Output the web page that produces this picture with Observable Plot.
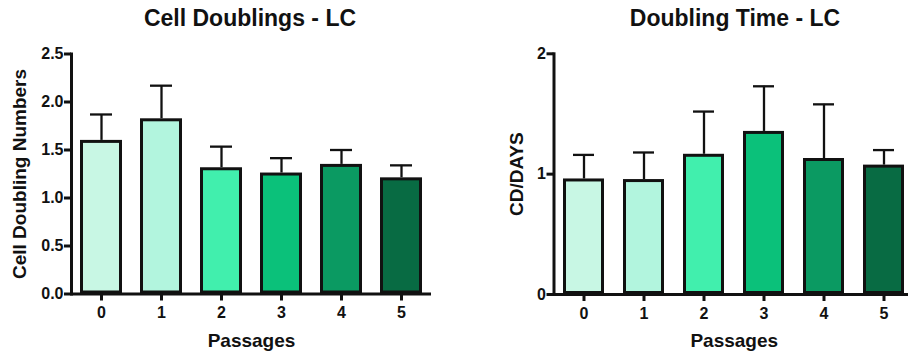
<!DOCTYPE html>
<html>
<head>
<meta charset="utf-8">
<script src="https://cdn.jsdelivr.net/npm/d3@7"></script>
<script src="https://cdn.jsdelivr.net/npm/@observablehq/plot@0.6"></script>
<style>
  html, body { margin: 0; padding: 0; background: #fff; overflow: hidden; }
  body { width: 908px; height: 356px; position: relative; font-family: "Liberation Sans", Arial, sans-serif; }
  .panel { position: absolute; top: 0; }
  .title { height: 40px; line-height: 37px; text-align: center; font-weight: bold; font-size: 23px; color: #111; white-space: nowrap; }
</style>
</head>
<body>
<div id="left" class="panel" style="left:0; width:454px;"></div>
<div id="right" class="panel" style="left:454px; width:460px;"></div>
<script>
const passages = ["0", "1", "2", "3", "4", "5"];
const colors = ["#c8f7e4", "#b2f5de", "#41efad", "#0bc17a", "#0b9a62", "#086b43"];

const cdTitle = "Cell Doublings - LC";
const cdLabel = "Cell Doubling Numbers";
const cdMean = [1.60, 1.825, 1.315, 1.26, 1.35, 1.21];
const cdUpper = [1.87, 2.17, 1.535, 1.415, 1.50, 1.34];
const cdTicks = [0, 0.5, 1.0, 1.5, 2.0, 2.5];

const dtTitle = "Doubling Time - LC";
const dtLabel = "CD/DAYS";
const dtMean = [0.96, 0.955, 1.165, 1.355, 1.13, 1.075];
const dtUpper = [1.16, 1.18, 1.52, 1.73, 1.58, 1.20];
const dtTicks = [0, 1, 2];

const xLabel = "Passages";

function chart(el, opts) {
  const data = passages.map((p, i) => ({p, mean: opts.mean[i], upper: opts.upper[i], color: colors[i]}));
  const title = document.createElement("div");
  title.className = "title";
  title.style.paddingLeft = opts.titleShift + "px";
  title.textContent = opts.title;
  el.appendChild(title);
  const plot = Plot.plot({
    width: opts.width,
    height: 316,
    marginLeft: opts.marginLeft,
    marginRight: opts.marginRight,
    marginTop: opts.marginTop,
    marginBottom: opts.marginBottom,
    style: {fontFamily: "'Liberation Sans', Arial, sans-serif", background: "#fff", color: "#111", overflow: "visible"},
    x: {domain: passages, paddingInner: opts.padIn, paddingOuter: opts.padIn / 2, axis: null},
    y: {domain: opts.domain, axis: null},
    marks: [
      Plot.ruleX(data, {x: "p", y1: "mean", y2: "upper", stroke: "#111", strokeWidth: 2.3}),
      Plot.tickY(data, {x: "p", y: "upper", stroke: "#111", strokeWidth: 2.3, insetLeft: opts.capInset, insetRight: opts.capInset}),
      Plot.barY(data, {x: "p", y: "mean", fill: "color", stroke: "#111", strokeWidth: 3, inset: 1.5}),
      Plot.ruleY([0], {stroke: "#111", strokeWidth: 3}),
      Plot.frame({anchor: "left", stroke: "#111", strokeWidth: 3}),
      Plot.axisY({ticks: opts.ticks, tickFormat: opts.fmt, tickSize: 7, tickPadding: 1, strokeWidth: 3, fontSize: 16, fontWeight: "bold", label: null}),
      Plot.axisX({tickSize: 7, tickPadding: 6, strokeWidth: 3, fontSize: 16, fontWeight: "bold", label: null}),
      Plot.text([opts.yLabel], {frameAnchor: "left", textAnchor: "middle", lineAnchor: "middle", rotate: -90, dx: opts.yLabelDx, fontSize: 19, fontWeight: "bold", fill: "#111"}),
      Plot.text([xLabel], {frameAnchor: "bottom", textAnchor: "middle", lineAnchor: "middle", dy: 46.5, fontSize: 19, fontWeight: "bold", fill: "#111"})
    ]
  });
  el.appendChild(plot);
}

chart(document.getElementById("left"), {
  title: cdTitle, titleShift: 46, yLabel: cdLabel, mean: cdMean, upper: cdUpper,
  domain: [0, 2.5], ticks: cdTicks, fmt: d3.format(".1f"),
  width: 454, marginLeft: 71, marginRight: 23, marginTop: 13.5, marginBottom: 62.5,
  padIn: 0.3, capInset: 10, yLabelDx: -52
});
chart(document.getElementById("right"), {
  title: dtTitle, titleShift: 102, yLabel: dtLabel, mean: dtMean, upper: dtUpper,
  domain: [0, 2], ticks: dtTicks, fmt: d3.format("d"),
  width: 460, marginLeft: 99.5, marginRight: 0, marginTop: 13.3, marginBottom: 62,
  padIn: 0.32, capInset: 10, yLabelDx: -37
});
</script>
</body>
</html>
